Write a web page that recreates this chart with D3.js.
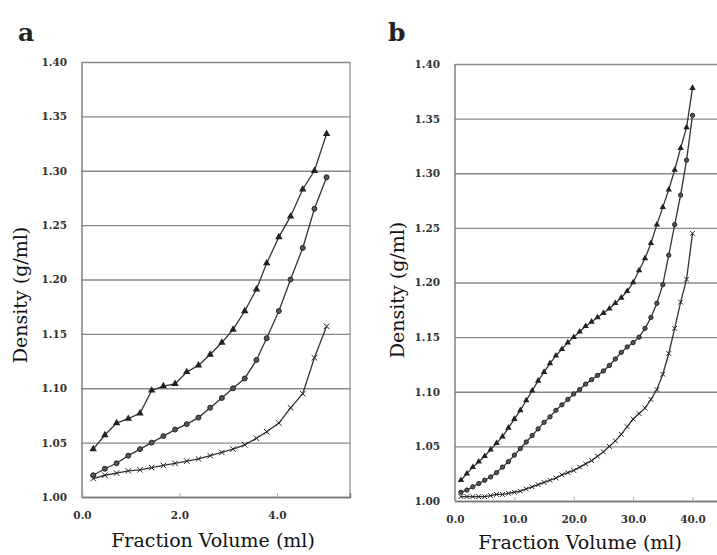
<!DOCTYPE html>
<html>
<head>
<meta charset="utf-8">
<script src="https://cdn.jsdelivr.net/npm/d3@7"></script>
<style>
  body { margin: 0; background: #fff; }
  svg { display: block; }
  .tick text { font-family: "DejaVu Serif", serif; font-weight: bold; font-size: 10.5px; fill: #333; }
  .title { font-family: "DejaVu Serif", serif; font-size: 19px; fill: #111; }
  .panel { font-family: "DejaVu Serif", serif; font-weight: bold; font-size: 25px; fill: #222; }
</style>
</head>
<body>
<div id="chart"></div>
<script>
// panel a: fraction volume (ml) and density (g/ml)
const volA = [0.23, 0.47, 0.71, 0.95, 1.19, 1.43, 1.67, 1.91, 2.15, 2.39, 2.63, 2.87, 3.10, 3.34, 3.58, 3.79, 4.04, 4.28, 4.53, 4.77, 5.02]
const triA = [1.044, 1.057, 1.068, 1.072, 1.077, 1.098, 1.102, 1.104, 1.115, 1.121, 1.131, 1.142, 1.154, 1.171, 1.191, 1.215, 1.239, 1.258, 1.283, 1.300, 1.334]
const cirA = [1.020, 1.026, 1.031, 1.038, 1.044, 1.050, 1.056, 1.062, 1.067, 1.073, 1.082, 1.091, 1.100, 1.109, 1.126, 1.146, 1.171, 1.200, 1.229, 1.265, 1.294]
const crsA = [1.017, 1.020, 1.022, 1.024, 1.025, 1.027, 1.029, 1.031, 1.033, 1.035, 1.038, 1.041, 1.044, 1.048, 1.054, 1.060, 1.068, 1.082, 1.095, 1.128, 1.157]

// panel b
const volB = [1, 2, 3, 4, 5, 6, 7, 8, 9, 10, 11, 12, 13, 14, 15, 16, 17, 18, 19, 20,
              21, 22, 23, 24, 25, 26, 27, 28, 29, 30, 31, 32, 33, 34, 35, 36, 37, 38, 39, 40]
const triB = [1.019, 1.025, 1.031, 1.036, 1.041, 1.047, 1.053, 1.059, 1.067, 1.075,
              1.083, 1.092, 1.101, 1.110, 1.118, 1.126, 1.133, 1.139, 1.145, 1.150,
              1.155, 1.160, 1.164, 1.168, 1.172, 1.176, 1.181, 1.186, 1.192, 1.200,
              1.211, 1.222, 1.236, 1.253, 1.269, 1.285, 1.303, 1.323, 1.342, 1.378]
const cirB = [1.008, 1.010, 1.013, 1.016, 1.019, 1.022, 1.026, 1.031, 1.036, 1.042,
              1.048, 1.054, 1.060, 1.066, 1.072, 1.077, 1.083, 1.088, 1.093, 1.098,
              1.102, 1.107, 1.111, 1.115, 1.119, 1.124, 1.130, 1.136, 1.141, 1.145,
              1.150, 1.158, 1.168, 1.181, 1.198, 1.225, 1.253, 1.280, 1.312, 1.353]
const crsB = [1.004, 1.004, 1.004, 1.004, 1.004, 1.005, 1.006, 1.006, 1.007, 1.008,
              1.009, 1.011, 1.013, 1.015, 1.017, 1.019, 1.021, 1.024, 1.026, 1.028,
              1.031, 1.034, 1.037, 1.041, 1.045, 1.050, 1.055, 1.061, 1.068, 1.075,
              1.080, 1.085, 1.093, 1.102, 1.116, 1.135, 1.158, 1.182, 1.203, 1.245]

const yTicks = [1.00, 1.05, 1.10, 1.15, 1.20, 1.25, 1.30, 1.35, 1.40]
const xTicksA = [0, 2, 4]
const xTicksB = [0, 10, 20, 30, 40]

const W = 717, H = 555

const svg = d3.select("#chart")
  .append("svg")
    .attr("width", W)
    .attr("height", H)

function drawPanel(p) {
  const x = d3.scaleLinear().domain(p.xDomain).range([p.left, p.right])
  const y = d3.scaleLinear().domain([1.0, 1.4]).range([p.bottom, p.top])
  const g = svg.append("g")

  // gridlines + y labels
  g.append("g")
    .attr("transform", `translate(${p.left},0)`)
    .call(d3.axisLeft(y).tickValues(yTicks).tickFormat(d3.format(".2f"))
      .tickSize(-(p.right - p.left)).tickPadding(p.yPad))
    .call(s => s.select(".domain").remove())
    .call(s => s.selectAll(".tick line").attr("stroke", "#888").attr("stroke-width", 1.4))

  // frame
  g.append("line").attr("x1", p.left).attr("x2", p.left).attr("y1", p.top).attr("y2", p.bottom)
    .attr("stroke", "#777").attr("stroke-width", 1.4)
  if (p.frameRight)
    g.append("line").attr("x1", p.right).attr("x2", p.right).attr("y1", p.top).attr("y2", p.bottom)
      .attr("stroke", "#999").attr("stroke-width", 1.4)

  // x axis
  g.append("g")
    .attr("transform", `translate(0,${p.bottom})`)
    .call(d3.axisBottom(x).tickValues(p.xTicks).tickFormat(d3.format(".1f")).tickSize(-4).tickPadding(15))
    .call(s => s.select(".domain").attr("stroke", "#777").attr("stroke-width", 1.4))
    .call(s => s.selectAll(".tick line").attr("stroke", "#aaa"))

  const line = d3.line().x(d => x(d[0])).y(d => y(d[1]))
  const series = [
    { vals: p.tri, type: d3.symbolTriangle, size: p.msize, fill: "#222", stroke: "none" },
    { vals: p.cir, type: d3.symbolCircle, size: p.msize * 0.8, fill: "#555", stroke: "#222" },
    { vals: p.crs, type: d3.symbolX, size: p.msize * 0.9, fill: "none", stroke: "#222" }
  ]
  series.forEach(s => {
    const pts = p.vol.map((v, i) => [v, s.vals[i]])
    g.append("path").datum(pts)
      .attr("fill", "none").attr("stroke", "#333").attr("stroke-width", 1.3)
      .attr("d", line)
    g.selectAll(null).data(pts).enter()
      .append("path")
        .attr("transform", d => `translate(${x(d[0])},${y(d[1])})`)
        .attr("d", d3.symbol().type(s.type).size(s.size))
        .attr("fill", s.fill).attr("stroke", s.stroke).attr("stroke-width", 1)
  })

  g.append("text").attr("class", "title")
    .attr("x", p.xTitleX).attr("y", p.xTitleY)
    .attr("text-anchor", "middle")
    .text("Fraction Volume (ml)")

  g.append("text").attr("class", "title")
    .attr("transform", `translate(${p.yTitleX},${p.yTitleY}) rotate(-90)`)
    .attr("text-anchor", "middle")
    .text("Density (g/ml)")

  g.append("text").attr("class", "panel")
    .attr("x", p.labelX).attr("y", 41)
    .text(p.label)
}

drawPanel({
  label: "a", labelX: 18,
  left: 82, right: 350, top: 62, bottom: 497,
  xDomain: [0, 5.5], xTicks: xTicksA, frameRight: true, yPad: 15,
  vol: volA, tri: triA, cir: cirA, crs: crsA, msize: 24,
  xTitleX: 213, xTitleY: 547, yTitleX: 27, yTitleY: 295
})

drawPanel({
  label: "b", labelX: 388,
  left: 455, right: 740, top: 64, bottom: 501,
  xDomain: [0, 48], xTicks: xTicksB, frameRight: false, yPad: 15,
  vol: volB, tri: triB, cir: cirB, crs: crsB, msize: 18,
  xTitleX: 580, xTitleY: 549, yTitleX: 404, yTitleY: 290
})
</script>
</body>
</html>
